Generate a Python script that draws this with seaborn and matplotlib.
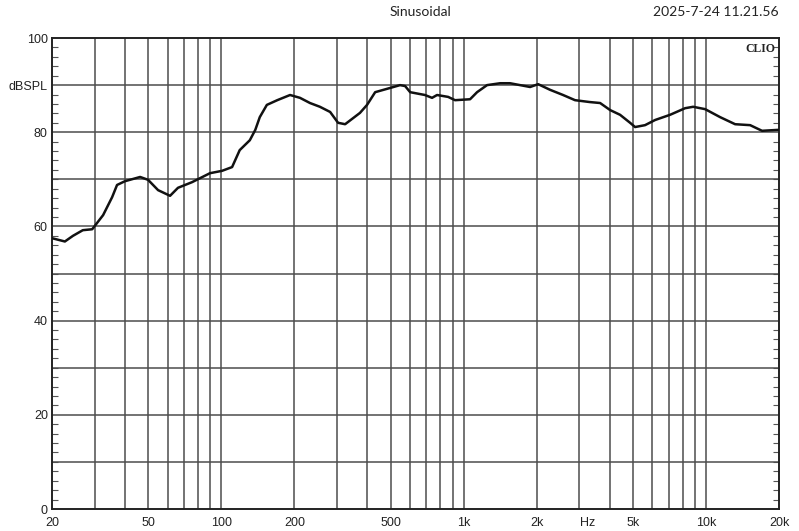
import numpy as np
import pandas as pd
import matplotlib
matplotlib.use("Agg")
import matplotlib.pyplot as plt
import seaborn as sns
from matplotlib.ticker import FixedLocator, NullFormatter

# frequency response
freq = [20, 22.6, 24.4, 26.8, 29.3, 32.5, 35.4, 37.1, 40, 46.2, 49.8, 54.8, 61.4,
        66.2, 75.7, 89.7, 100.6, 110.7, 119, 131, 138, 144, 154, 170, 192, 211, 232,
        255, 281, 303, 324, 373, 399, 431, 497, 546, 573, 601, 692, 740, 776,
        862, 921, 1062, 1135, 1248, 1413, 1553, 1708, 1879, 2028, 2272, 2570,
        2880, 3319, 3654, 4019, 4416, 4858, 5094, 5600, 6165, 7105, 8195, 8843,
        9910, 11430, 13180, 15200, 17020, 19820]
spl = [57.5, 56.8, 58.0, 59.2, 59.4, 62.4, 66.2, 68.8, 69.6, 70.5, 69.9, 67.7,
       66.5, 68.2, 69.4, 71.3, 71.8, 72.6, 76.2, 78.3, 80.5, 83.2, 85.8, 86.8, 87.9,
       87.3, 86.2, 85.4, 84.3, 82.0, 81.7, 84.1, 85.8, 88.5, 89.4, 90.0, 89.8,
       88.5, 87.9, 87.3, 87.9, 87.5, 86.8, 87.0, 88.5, 90.0, 90.4, 90.4, 90.0,
       89.6, 90.2, 89.0, 87.9, 86.8, 86.4, 86.2, 84.7, 83.7, 82.0, 81.1, 81.5,
       82.6, 83.7, 85.1, 85.4, 84.9, 83.2, 81.7, 81.5, 80.3, 80.5]

x_ticks = [20, 50, 100, 200, 500, 1000, 2000, 3260, 5000, 10000, 20000]
x_labels = ["20", "50", "100", "200", "500", "1k", "2k", "Hz", "5k", "10k", "20k"]
y_ticks = [0, 20, 40, 60, 80, 90, 100]
y_labels = ["0", "20", "40", "60", "80", "dBSPL", "100"]

df = pd.DataFrame({"Hz": freq, "dBSPL": spl})

sns.set_style("white")
plt.rcParams["font.family"] = ["Liberation Sans", "DejaVu Sans"]

fig = plt.figure(figsize=(7.99, 5.31), dpi=100)
ax = fig.add_axes([0.0651, 0.0414, 0.9099, 0.887])

# grid: every decade multiple and every 10 dB
grid_f = [m * 10 ** d for d in range(1, 5) for m in range(1, 10)]
grid_f = [g for g in grid_f if 20 < g < 20000]
for g in grid_f:
    ax.axvline(g, color="#4d4d4d", lw=1.1, zorder=1)
for g in range(10, 100, 10):
    ax.axhline(g, color="#4d4d4d", lw=1.1, zorder=1)

sns.lineplot(data=df, x="Hz", y="dBSPL", ax=ax, color="#111111", lw=1.8, zorder=3)

ax.set_xscale("log")
ax.set_xlim(20, 20000)
ax.set_ylim(0, 100)
ax.set_xlabel("")
ax.set_ylabel("")

ax.xaxis.set_major_locator(FixedLocator(x_ticks))
ax.xaxis.set_minor_locator(FixedLocator([]))
ax.set_xticklabels(x_labels)
ax.xaxis.set_minor_formatter(NullFormatter())
ax.set_yticks(y_ticks)
ax.set_yticklabels(y_labels)
ax.yaxis.set_minor_locator(FixedLocator(list(range(0, 101, 2))))

ax.tick_params(axis="x", length=0, pad=6, labelsize=9, colors="#222222")
ax.tick_params(axis="y", which="major", length=0, pad=3, labelsize=9, colors="#222222")
ax.tick_params(axis="y", which="minor", direction="in", length=4, width=0.8,
               color="#555555", left=True, right=True)

for s in ax.spines.values():
    s.set_color("#222222")
    s.set_linewidth(1.4)

ax.text(0.995, 0.99, "CLIO", transform=ax.transAxes, ha="right", va="top",
        fontsize=8.5, fontweight="bold", family=["Liberation Serif", "DejaVu Serif"],
        color="#222222")

fig.text(0.526, 0.977, "Sinusoidal", ha="center", va="center", fontsize=10,
         family=["Lato", "DejaVu Sans"], color="#222222")
fig.text(0.975, 0.977, "2025-7-24 11.21.56", ha="right", va="center", fontsize=10,
         family=["Lato", "DejaVu Sans"], color="#222222")

fig.savefig("out.png", dpi=100)
